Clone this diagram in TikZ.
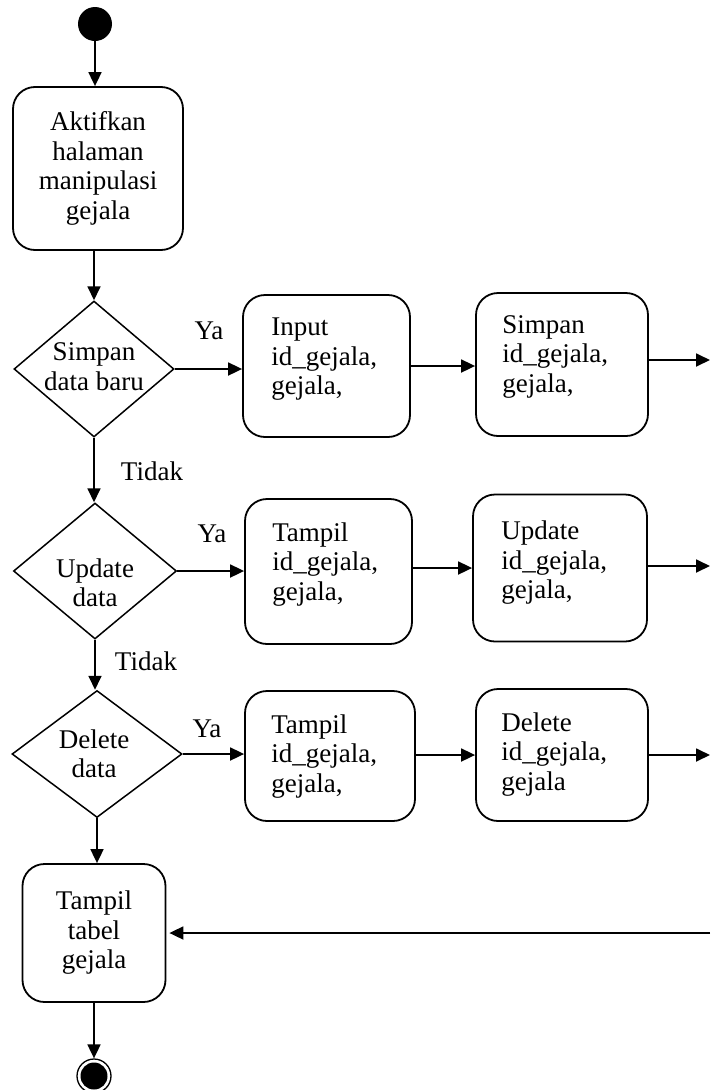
\documentclass[tikz,border=0pt]{standalone}
\usepackage{fontspec}
\setmainfont{Liberation Serif}
\usetikzlibrary{shapes.geometric,arrows.meta}

\begin{document}
\begin{tikzpicture}[x=1pt,y=-1pt,
  every node/.style={font=\fontsize{27}{29.5}\selectfont},
  actbox/.style={draw, line width=1.8pt, rounded corners=22pt, inner sep=0pt},
  boxtext/.style={anchor=north west, align=left, inner sep=0pt},
  decision/.style={draw, diamond, line width=1.5pt, inner sep=0pt},
  flow/.style={line width=1.8pt, -{Triangle[length=14pt,width=13pt]}},
  guard/.style={anchor=base, inner sep=0pt},
  startdot/.style={circle, fill=black, minimum size=34pt, inner sep=0pt},
  enddot/.style={circle, draw, line width=1.3pt, minimum size=34pt, inner sep=0pt}]

\useasboundingbox (0,0) rectangle (710,1090);

% start and opening action
\node[startdot] (start) at (95,24) {};
\node[actbox, align=center, minimum width=170pt, minimum height=163pt] (aktif) at (98,168.5)
  {Aktifkan\\halaman\\manipulasi\\gejala};

% decisions
\node[decision, minimum width=160pt, minimum height=136pt,
  label={[align=center, yshift=2.5pt]center:Simpan\\data baru}] (d1) at (94,369) {};
\node[decision, minimum width=163pt, minimum height=136pt,
  label={[align=center, yshift=-12pt]center:Update\\data}] (d2) at (95,571) {};
\node[decision, minimum width=170pt, minimum height=127pt,
  label={[align=center, xshift=-3pt]center:Delete\\data}] (d3) at (97,754) {};

% insert branch
\node[actbox, minimum width=167pt, minimum height=142pt] (input) at (326.5,366) {};
\node[boxtext] (input-text) at ([shift={(29,24)}]input.north west) {Input\\id\_gejala,\\gejala,};
\node[actbox, minimum width=172pt, minimum height=143pt] (simpan) at (562,364.5) {};
\node[boxtext] (simpan-text) at ([shift={(27,23)}]simpan.north west) {Simpan\\id\_gejala,\\gejala,};

% update branch
\node[actbox, minimum width=167pt, minimum height=145pt] (tampil1) at (328.5,571.5) {};
\node[boxtext] (tampil1-text) at ([shift={(28,24)}]tampil1.north west) {Tampil\\id\_gejala,\\gejala,};
\node[actbox, minimum width=174pt, minimum height=147pt] (update) at (560,568) {};
\node[boxtext] (update-text) at ([shift={(29,27)}]update.north west) {Update\\id\_gejala,\\gejala,};

% delete branch
\node[actbox, minimum width=170pt, minimum height=130pt] (tampil2) at (330,756) {};
\node[boxtext] (tampil2-text) at ([shift={(27,24)}]tampil2.north west) {Tampil\\id\_gejala,\\gejala,};
\node[actbox, minimum width=172pt, minimum height=132pt] (delete) at (562,755) {};
\node[boxtext] (delete-text) at ([shift={(26,24)}]delete.north west) {Delete\\id\_gejala,\\gejala};

% closing action and end
\node[actbox, align=center, minimum width=143pt, minimum height=138pt] (tabel) at (94,933)
  {Tampil\\tabel\\gejala};
\node[enddot] (end) at (94,1076) {};
\fill (end.center) circle[radius=13.5pt];

% free ends at the right margin
\coordinate (out1) at (710,360);
\coordinate (out2) at (710,566);
\coordinate (out3) at (710,755);
\coordinate (back) at (710,933);

% main column
\draw[flow] (start) -- (start |- aktif.north);
\draw[flow] (aktif.south -| d1.north) -- (d1.north);
\draw[flow] (d1.south) -- (d1.south |- d2.north);
\draw[flow] (d2.south) -- (d2.south |- d3.north);
\draw[flow] (d3.south) -- (d3.south |- tabel.north);
\draw[flow] (tabel.south) -- (tabel.south |- end.north);

% branches
\draw[flow] (d1.east) -- (d1.east -| input.west);
\draw[flow] (input.east) -- (input.east -| simpan.west);
\draw[flow] (simpan.east |- out1) -- (out1);

\draw[flow] (d2.east) -- (d2.east -| tampil1.west);
\draw[flow] (tampil1.east |- update.east) -- (update.west);
\draw[flow] (update.east |- out2) -- (out2);

\draw[flow] (d3.east) -- (d3.east -| tampil2.west);
\draw[flow] (tampil2.east |- delete.west) -- (delete.west);
\draw[flow] (delete.east |- out3) -- (out3);

\draw[flow, shorten >=3pt] (back) -- (back -| tabel.east);

% guards
\node[guard] (ya1) at (209,339) {Ya};
\node[guard] (ya2) at (212,542) {Ya};
\node[guard] (ya3) at (207,737) {Ya};
\node[guard] (tidak1) at (152,480) {Tidak};
\node[guard] (tidak2) at (146,670) {Tidak};
\end{tikzpicture}
\end{document}
